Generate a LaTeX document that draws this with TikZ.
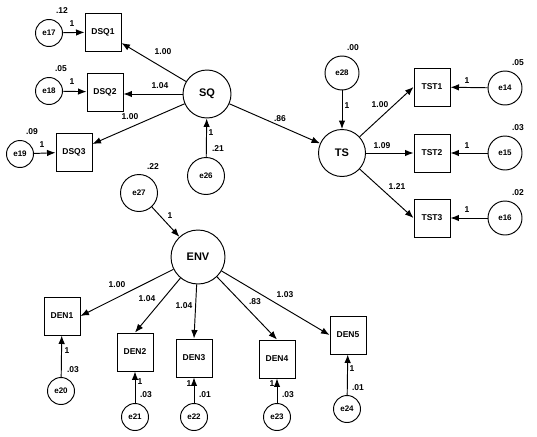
\documentclass[tikz,border=0pt]{standalone}
\usepackage{fontspec}
\setmainfont{Liberation Sans}
\usetikzlibrary{arrows.meta}
\begin{document}
\begin{tikzpicture}[x=1pt,y=-1pt,
  every node/.style={inner sep=0pt},
  conn/.style={draw,line width=0.95pt,-{Latex[length=8.5pt,width=6.5pt]}},
  obs/.style={draw,line width=0.95pt,minimum width=36pt,minimum height=38pt,font=\fontsize{8.5}{10}\selectfont\bfseries},
  lat/.style={circle,draw,line width=0.95pt,font=\fontsize{11}{13}\selectfont\bfseries},
  errs/.style={circle,draw,line width=0.95pt,minimum size=27pt,font=\fontsize{8}{10}\selectfont\bfseries},
  errm/.style={circle,draw,line width=0.95pt,minimum size=34pt,font=\fontsize{8}{10}\selectfont\bfseries},
  errl/.style={circle,draw,line width=0.95pt,minimum size=37pt,font=\fontsize{8}{10}\selectfont\bfseries},
  lbl/.style={font=\fontsize{8.5}{10}\selectfont\bfseries}]
\useasboundingbox (0,0) rectangle (537,436);
% latent variables
\node[lat,minimum size=48pt] (SQ) at (207,94) {SQ};
\node[lat,minimum size=47pt] (TS) at (342,153) {TS};
\node[lat,minimum size=54pt] (ENV) at (198,257) {ENV};
% DSQ group
\node[obs] (DSQ1) at (103,32) {DSQ1};
\node[obs] (DSQ2) at (105,92) {DSQ2};
\node[obs] (DSQ3) at (74,152) {DSQ3};
\node[errs] (e17) at (49,33) {e17};
\node[errs] (e18) at (49,91) {e18};
\node[errs] (e19) at (20,154) {e19};
\node[errl] (e26) at (206,176) {e26};
% TS group
\node[obs] (TST1) at (432,87) {TST1};
\node[obs] (TST2) at (432,153) {TST2};
\node[obs] (TST3) at (432,218) {TST3};
\node[errm] (e14) at (505,88) {e14};
\node[errm] (e15) at (505,153) {e15};
\node[errm] (e16) at (505,218) {e16};
\node[errm] (e28) at (342,73) {e28};
% ENV group
\node[errl] (e27) at (139,193) {e27};
\node[obs] (DEN1) at (62,316) {DEN1};
\node[obs] (DEN2) at (135,352) {DEN2};
\node[obs] (DEN3) at (194,358) {DEN3};
\node[obs] (DEN4) at (277,359) {DEN4};
\node[obs] (DEN5) at (348,335) {DEN5};
\node[errs] (e20) at (61,391) {e20};
\node[errs] (e21) at (135,417) {e21};
\node[errs] (e22) at (194,417) {e22};
\node[errs] (e23) at (277,417) {e23};
\node[errs] (e24) at (347,409) {e24};
% connectors
\draw[conn] (e17) -- (DSQ1);
\draw[conn] (e18) -- (DSQ2);
\draw[conn] (e19) -- (DSQ3);
\draw[conn] (SQ) -- (DSQ1);
\draw[conn] (SQ.west) -- (SQ.west -| DSQ2.east);
\draw[conn] (SQ) -- (DSQ3);
\draw[conn] (e26) -- (SQ);
\draw[conn] (SQ) -- (TS);
\draw[conn] (e28) -- (TS);
\draw[conn] (TS) -- (TST1.west);
\draw[conn] (TS) -- (TST2.west);
\draw[conn] (TS) -- (TST3.west);
\draw[conn] (e14) -- (TST1);
\draw[conn] (e15) -- (TST2);
\draw[conn] (e16) -- (TST3);
\draw[conn] (e27) -- (ENV);
\draw[conn] (ENV) -- (DEN1.east);
\draw[conn] (ENV) -- (DEN2.north);
\draw[conn] (ENV) -- (DEN3.north);
\draw[conn] (ENV) -- (DEN4.north);
\draw[conn] (ENV) -- (DEN5.west);
\draw[conn] (e20) -- (DEN1);
\draw[conn] (e21) -- (DEN2);
\draw[conn] (e22) -- (DEN3);
\draw[conn] (e23) -- (DEN4);
\draw[conn] (e24) -- (DEN5);
% labels: variances
\node[lbl] (v17) at (62,11) {.12};
\node[lbl] (v18) at (61,69) {.05};
\node[lbl] (v19) at (32,132) {.09};
\node[lbl] (v26) at (218,149) {.21};
\node[lbl] (v27) at (153,167) {.22};
\node[lbl] (v28) at (353,48) {.00};
\node[lbl] (v14) at (518,63) {.05};
\node[lbl] (v15) at (518,128) {.03};
\node[lbl] (v16) at (518,193) {.02};
\node[lbl] (v20) at (73,370) {.03};
\node[lbl] (v21) at (146,395) {.03};
\node[lbl] (v22) at (205,395) {.01};
\node[lbl] (v23) at (288,395) {.03};
\node[lbl] (v24) at (358,388) {.01};
% labels: loadings
\node[lbl] (w1) at (163,52) {1.00};
\node[lbl] (w2) at (160,86) {1.04};
\node[lbl] (w3) at (130,117) {1.00};
\node[lbl] (w4) at (280,119) {.86};
\node[lbl] (w5) at (380,105) {1.00};
\node[lbl] (w6) at (382,146) {1.09};
\node[lbl] (w7) at (397,187) {1.21};
\node[lbl] (w8) at (117,285) {1.00};
\node[lbl] (w9) at (147,299) {1.04};
\node[lbl] (w10) at (184,306) {1.04};
\node[lbl] (w11) at (255,302) {.83};
\node[lbl] (w12) at (285,295) {1.03};
% labels: fixed 1s
\node[lbl] (o17) at (72,24) {1};
\node[lbl] (o18) at (72,82) {1};
\node[lbl] (o19) at (42,145) {1};
\node[lbl] (o26) at (211,133) {1};
\node[lbl] (o28) at (347,106) {1};
\node[lbl] (o14) at (467,81) {1};
\node[lbl] (o15) at (467,146) {1};
\node[lbl] (o16) at (467,210) {1};
\node[lbl] (o27) at (170,216) {1};
\node[lbl] (o20) at (67,351) {1};
\node[lbl] (o21) at (140,382) {1};
\node[lbl] (o22) at (189,384) {1};
\node[lbl] (o23) at (272,384) {1};
\node[lbl] (o24) at (352,369) {1};
\end{tikzpicture}
\end{document}
